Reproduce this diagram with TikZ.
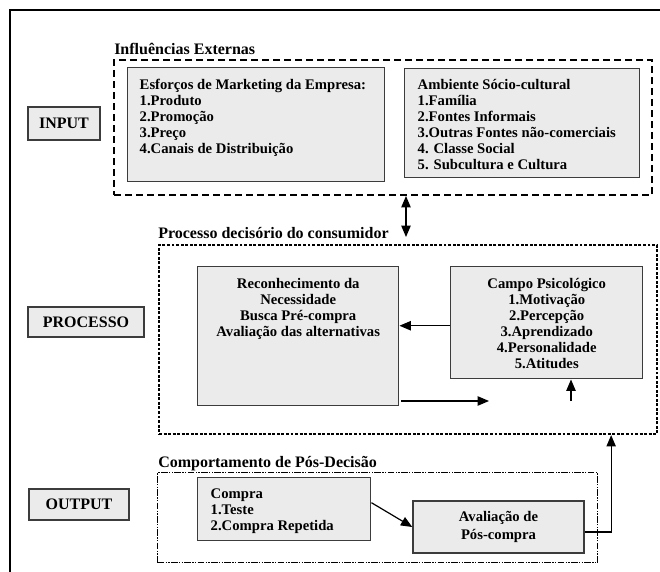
\documentclass[tikz,border=0pt]{standalone}
\usepackage{fontspec}
\setmainfont{Liberation Serif}
\usetikzlibrary{arrows.meta}
\definecolor{boxfill}{HTML}{EBEBEB}
\definecolor{boxline}{HTML}{3C3C3C}
\newcommand{\bxt}[5]{\parbox[c][#1][t]{#2}{#3\rule{0pt}{#4}#5}}
\begin{document}
\begin{tikzpicture}[x=0.75pt,y=-0.75pt,
 gbox/.style={draw=boxline, fill=boxfill, line width=1.1pt, inner sep=0pt, anchor=north west, font=\bfseries\fontsize{11}{12}\selectfont},
 tagbox/.style={draw=boxline, fill=boxfill, line width=1.1pt, inner sep=0pt, font=\bfseries\fontsize{12}{14}\selectfont},
 grplabel/.style={anchor=base west, inner sep=0pt, font=\bfseries\fontsize{12}{14}\selectfont},
 extbox/.style={draw=black, line width=1.5pt, dash pattern=on 5.25pt off 3pt, anchor=north west, inner sep=0pt},
 procbox/.style={draw=black, line width=1.6pt, dash pattern=on 2.2pt off 1.2pt, anchor=north west, inner sep=0pt},
 posbox/.style={draw=black, line width=0.8pt, dash pattern=on 5pt off 1pt on 1pt off 1pt on 1pt off 1pt, anchor=north west, inner sep=0pt},
 arr/.style={-{Triangle[length=8.5pt,width=7pt]}, line width=0.9pt},
 darr/.style={{Triangle[length=8.5pt,width=7pt]}-{Triangle[length=8.5pt,width=7pt]}, line width=0.9pt}]

\useasboundingbox (0,0) rectangle (660,571);
\draw[line width=1.5pt] (10,575) -- (10,10) -- (665,10);

% group frames
\node[extbox, minimum width=403.5pt, minimum height=101.25pt] (ext) at (113,59) {};
\node[procbox, minimum width=373.5pt, minimum height=141.75pt] (proc) at (158,244) {};
\node[posbox, minimum width=330pt, minimum height=67.5pt] (pos) at (157,472) {};

% group labels
\node[grplabel] (extlab) at (114,54) {Influências Externas};
\node[grplabel] (proclab) at (158,238) {Processo decisório do consumidor};
\node[grplabel] (poslab) at (158,467) {Comportamento de Pós-Decisão};

% tag boxes
\node[tagbox, minimum width=54pt, minimum height=24.75pt] (input) at (64,123.5) {INPUT};
\node[tagbox, minimum width=87pt, minimum height=22.5pt] (processo) at (86,322) {PROCESSO};
\node[tagbox, minimum width=75pt, minimum height=23.25pt] (output) at (79,504.5) {OUTPUT};

% content boxes
\node[gbox] (esf) at (127,67) {\bxt{85.5pt}{192.75pt}{\raggedright\leftskip=9pt}{16.5pt}{Esforços de Marketing da Empresa:\\1.Produto\\2.Promoção\\3.Preço\\4.Canais de Distribuição}};
\node[gbox] (amb) at (404,68) {\bxt{81.75pt}{176.25pt}{\raggedright\leftskip=9.75pt}{15.5pt}{Ambiente Sócio-cultural\\1.Família\\2.Fontes Informais\\3.Outras Fontes não-comerciais\\4. Classe Social\\5. Subcultura e Cultura}};
\node[gbox] (recon) at (197,266) {\bxt{104.25pt}{150.75pt}{\centering}{16.5pt}{Reconhecimento da\\Necessidade\\Busca Pré-compra\\Avaliação das alternativas}};
\node[gbox] (campo) at (450,266) {\bxt{84pt}{144pt}{\centering}{16.5pt}{Campo Psicológico\\1.Motivação\\2.Percepção\\3.Aprendizado\\4.Personalidade\\5.Atitudes}};
\node[gbox] (compra) at (197,477) {\bxt{47.25pt}{129.75pt}{\raggedright\leftskip=9.75pt}{15.75pt}{Compra\\1.Teste\\2.Compra Repetida}};
\node[gbox, anchor=center, minimum width=128.25pt, minimum height=39pt, align=center, font=\bfseries\fontsize{11}{14}\selectfont] (aval) at (498.5,527) {Avaliação de\\Pós-compra};

% connectors
\coordinate (dx) at (406,0);
\draw[darr] (ext.south -| dx) -- ([yshift=5.25pt]proc.north -| dx);
\draw[arr] ([yshift=-2.25pt]campo.west) -- ([yshift=-2.25pt]campo.west -| recon.east);
\coordinate (p1) at (489,401);
\draw[arr] ([xshift=1.5pt]recon.east |- p1) -- (p1);
\coordinate (p2) at (571,401);
\draw[arr] (p2) -- (p2 |- campo.south);
\draw[arr] ([yshift=4.9pt]compra.east) -- (aval.west);
\draw[arr] ([yshift=-3.75pt]aval.east) -| ([xshift=-35.25pt]proc.south east);
\end{tikzpicture}
\end{document}
